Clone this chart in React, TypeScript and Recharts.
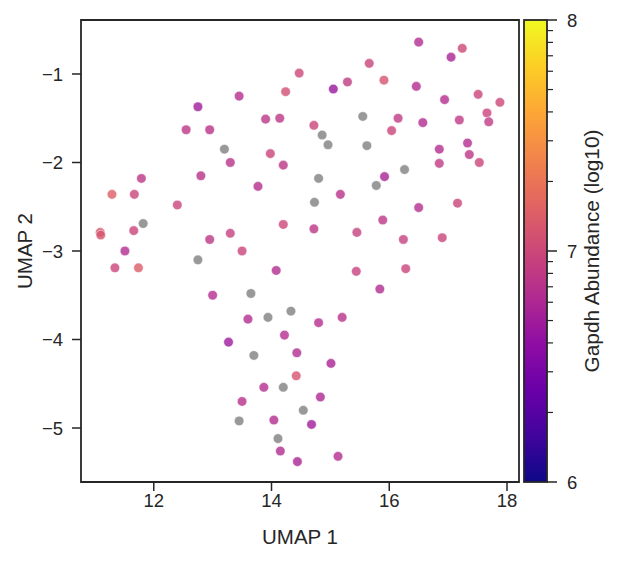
import React from "react";
import { ReferenceArea, Scatter, ScatterChart, XAxis, YAxis } from "recharts";

// UMAP coordinates and Gapdh abundance (log10); null = no measurement (grey)
const umap1 = [
	11.09, 11.1, 11.29, 11.34, 11.51, 11.66, 11.67, 11.74, 11.79, 11.82,
	12.4, 12.55, 12.75, 12.8, 12.75, 12.95, 12.95, 13.0, 13.2, 13.3,
	13.3, 13.27, 13.45, 13.5, 13.5, 13.45, 13.6, 13.65, 13.7, 13.77,
	13.87, 13.9, 13.94, 13.98, 14.04, 14.08, 14.11, 14.14, 14.15, 14.2,
	14.2, 14.22, 14.24, 14.2, 14.33, 14.43, 14.42, 14.44, 14.47, 14.54,
	14.68, 14.72, 14.72, 14.73, 14.8, 14.8, 14.83, 14.86, 14.96, 15.01,
	15.05, 15.13, 15.17, 15.2, 15.29, 15.44, 15.45, 15.55, 15.62, 15.66,
	15.78, 15.84, 15.89, 15.91, 15.92, 16.04, 16.15, 16.24, 16.26, 16.28,
	16.46, 16.5, 16.5, 16.57, 16.85, 16.85, 16.9, 16.94, 17.05, 17.16,
	17.19, 17.24, 17.33, 17.36, 17.51, 17.53, 17.66, 17.69, 17.88,
];
const umap2 = [
	-2.79, -2.82, -2.36, -3.19, -3.0, -2.77, -2.36, -3.19, -2.18, -2.69,
	-2.48, -1.63, -1.37, -2.15, -3.1, -2.87, -1.63, -3.5, -1.85, -2.0,
	-2.8, -4.03, -1.25, -3.0, -4.7, -4.92, -3.77, -3.48, -4.18, -2.27,
	-4.54, -1.51, -3.75, -1.9, -4.91, -3.22, -5.12, -1.5, -5.26, -2.7,
	-2.03, -3.95, -1.2, -4.54, -3.68, -4.15, -4.41, -5.38, -0.99, -4.8,
	-4.96, -1.58, -2.75, -2.45, -2.18, -3.81, -4.65, -1.69, -1.8, -4.27,
	-1.17, -5.32, -2.36, -3.75, -1.09, -3.23, -2.79, -1.48, -1.81, -0.88,
	-2.26, -3.43, -2.65, -1.07, -2.16, -1.64, -1.5, -2.87, -2.08, -3.2,
	-1.14, -0.64, -2.51, -1.55, -1.85, -2.01, -2.85, -1.29, -0.81, -2.46,
	-1.52, -0.71, -1.78, -1.91, -1.23, -2.0, -1.44, -1.54, -1.32,
];
const gapdh: (number | null)[] = [
	7.1, 7.1, 7.15, 6.98, 6.8, 6.98, 6.98, 7.15, 6.88, null,
	6.98, 6.88, 6.7, 6.85, null, 6.88, 6.85, 6.82, null, 6.85,
	6.95, 6.68, 6.82, 6.98, 6.85, null, 6.8, null, null, 6.82,
	6.82, 6.88, null, 6.98, 6.8, 6.8, null, 6.88, 6.8, 7.0,
	6.88, 6.82, 7.05, null, null, 6.8, 7.08, 6.75, 7.0, null,
	6.7, 6.98, 6.88, null, null, 6.82, 6.78, null, null, 6.75,
	6.66, 6.82, 6.85, 6.85, 6.92, 6.95, 6.95, null, null, 6.98,
	null, 6.8, 6.88, 7.08, 6.75, 6.98, 6.9, 6.95, null, 6.98,
	6.8, 6.8, 6.82, 6.8, 6.82, 6.9, 6.98, 6.82, 6.75, 6.98,
	6.9, 7.0, 6.82, 6.88, 6.98, 6.98, 6.98, 6.9, 7.0,
];

const xTicks = [12, 14, 16, 18];
const yTicks = [-5, -4, -3, -2, -1];
const cbarTicks = [6, 7, 8];

const xDomain = [10.764, 18.204];
const yDomain = [-5.61, -0.39];
const cMin = 6;
const cMax = 8;

const plasma = [
	"#0d0887", "#41049d", "#6a00a8", "#8f0da4", "#b12a90", "#cc4778",
	"#e16462", "#f2844b", "#fca636", "#fcce25", "#f0f921",
];

const hex = (c: string) => [1, 3, 5].map((i) => parseInt(c.slice(i, i + 2), 16));

function plasmaColor(t: number) {
	t = Math.max(0, Math.min(1, t));
	const p = t * (plasma.length - 1);
	const i = Math.min(Math.floor(p), plasma.length - 2);
	const f = p - i;
	const a = hex(plasma[i]);
	const b = hex(plasma[i + 1]);
	const c = a.map((v, k) => Math.round(v + (b[k] - v) * f));
	return `rgb(${c[0]},${c[1]},${c[2]})`;
}

const data = umap1.map((x, i) => ({ x, y: umap2[i], v: gapdh[i] }));

const INK = "#262626";
const FONT = "'Liberation Sans', Arial, sans-serif";
const minus = (v: number) => String(v).replace("-", "\u2212");

function Dot(props: any) {
	const { cx, cy, payload } = props;
	const fill = payload.v == null ? "#808080" : plasmaColor((payload.v - cMin) / (cMax - cMin));
	return <circle cx={cx} cy={cy} r={4.8} fill={fill} fillOpacity={0.8} stroke="#ffffff" strokeWidth={0.5} />;
}

// colorbar geometry (container coords)
const CB = { x: 516, y: 12, w: 23, h: 462 };

function Colorbar() {
	const minor: number[] = [];
	for (let e = cMin; e < cMax; e++) for (let k = 2; k <= 9; k++) minor.push(e + Math.log10(k));
	const yOf = (v: number) => CB.y + CB.h * (1 - (v - cMin) / (cMax - cMin));
	return (
		<svg width={618} height={561} style={{ position: "absolute", left: 0, top: 0, pointerEvents: "none" }}>
			<defs>
				<linearGradient id="plasma" x1="0" y1="1" x2="0" y2="0">
					{plasma.map((c, i) => (
						<stop key={i} offset={i / (plasma.length - 1)} stopColor={c} />
					))}
				</linearGradient>
			</defs>
			<rect x={CB.x} y={CB.y} width={CB.w} height={CB.h} fill="url(#plasma)" stroke={INK} strokeWidth={1.8} />
			{minor.map((v) => (
				<line key={v} x1={CB.x + CB.w} x2={CB.x + CB.w + 6} y1={yOf(v)} y2={yOf(v)} stroke={INK} strokeWidth={1.2} />
			))}
			{cbarTicks.map((v) => (
				<g key={v}>
					<line x1={CB.x + CB.w} x2={CB.x + CB.w + 10} y1={yOf(v)} y2={yOf(v)} stroke={INK} strokeWidth={1.5} />
					<text x={CB.x + CB.w + 20} y={yOf(v)} dy="0.36em" fontSize={18.5} fill={INK} fontFamily={FONT}>
						{v}
					</text>
				</g>
			))}
			<text
				x={584}
				y={CB.y + CB.h / 2}
				transform={`rotate(-90 584 ${CB.y + CB.h / 2})`}
				textAnchor="middle"
				dy="0.36em"
				fontSize={20.8}
				fill={INK}
				fontFamily={FONT}
			>
				Gapdh Abundance (log10)
			</text>
		</svg>
	);
}

export default function App() {
	return (
		<div style={{ position: "relative", width: 610, height: 553, fontFamily: FONT }}>
			<ScatterChart width={610} height={553} margin={{ top: 12, right: 99, bottom: 0, left: 0 }}>
				<XAxis
					type="number"
					dataKey="x"
					domain={xDomain}
					ticks={xTicks}
					allowDataOverflow
					axisLine={false}
					tickLine={{ stroke: INK, strokeWidth: 1.5 }}
					tickSize={9}
					tickMargin={3}
					height={79}
					tick={{ fill: INK, fontSize: 18.5, fontFamily: FONT }}
					label={({ viewBox }: any) => (
						<text
							x={viewBox.x + viewBox.width / 2}
							y={viewBox.y + 62}
							textAnchor="middle"
							fontSize={20.5}
							fill={INK}
							fontFamily={FONT}
						>
							UMAP 1
						</text>
					)}
				/>
				<YAxis
					type="number"
					dataKey="y"
					domain={yDomain}
					ticks={yTicks}
					allowDataOverflow
					axisLine={false}
					tickLine={{ stroke: INK, strokeWidth: 1.5 }}
					tickSize={9}
					tickMargin={9}
					width={73}
					tickFormatter={minus}
					tick={{ fill: INK, fontSize: 18.5, fontFamily: FONT }}
					label={({ viewBox }: any) => {
						const cx = 17;
						const cy = viewBox.y + viewBox.height / 2;
						return (
							<text
								x={cx}
								y={cy}
								transform={`rotate(-90 ${cx} ${cy})`}
								textAnchor="middle"
								dy="0.36em"
								fontSize={20.5}
								fill={INK}
								fontFamily={FONT}
							>
								UMAP 2
							</text>
						);
					}}
				/>
				<Scatter data={data} shape={Dot} isAnimationActive={false} />
				<ReferenceArea
					x1={xDomain[0]}
					x2={xDomain[1]}
					y1={yDomain[0]}
					y2={yDomain[1]}
					fill="none"
					stroke={INK}
					strokeWidth={1.8}
					ifOverflow="visible"
				/>
			</ScatterChart>
			<Colorbar />
		</div>
	);
}
